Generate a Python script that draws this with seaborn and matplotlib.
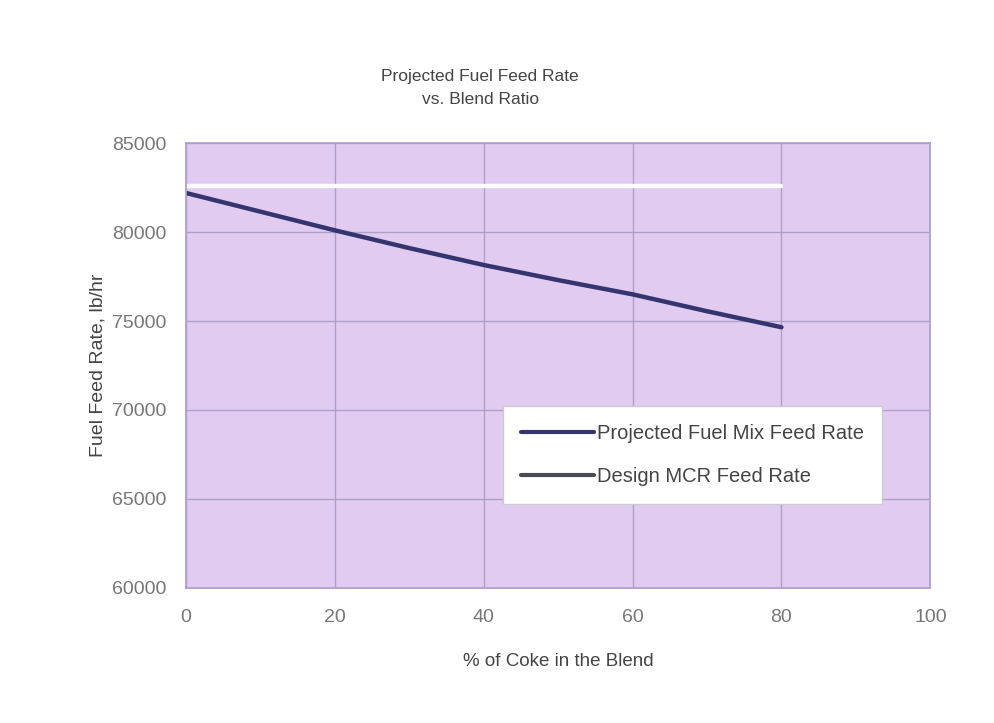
import matplotlib
matplotlib.use("Agg")
import matplotlib.pyplot as plt
import seaborn as sns
import pandas as pd
from matplotlib.lines import Line2D

coke_pct = [0, 10, 20, 30, 40, 50, 60, 70, 80]
projected_rate = [82200, 81150, 80100, 79100, 78150, 77300, 76500, 75550, 74650]
design_x = [0, 80]
design_rate = [82600, 82600]
x_ticks = [0, 20, 40, 60, 80, 100]
y_ticks = [60000, 65000, 70000, 75000, 80000, 85000]

sns.set_theme(style="whitegrid")
plt.rcParams['font.family'] = ['Liberation Sans', 'DejaVu Sans']

fig = plt.figure(figsize=(9.94, 7.23), dpi=100)
ax = fig.add_axes([0.187, 0.187, 0.749, 0.615])
ax.set_facecolor('#e2cbf0')

df_p = pd.DataFrame({"x": coke_pct, "y": projected_rate})
df_d = pd.DataFrame({"x": design_x, "y": design_rate})
sns.lineplot(data=df_p, x="x", y="y", ax=ax, color='#34356e', lw=3.2)
sns.lineplot(data=df_d, x="x", y="y", ax=ax, color='white', lw=3.2)

ax.set_xlim(0, 100)
ax.set_ylim(60000, 85000)
ax.set_xticks(x_ticks)
ax.set_yticks(y_ticks)
ax.grid(True, color='#ad9fcb', lw=1.0)
for s in ax.spines.values():
    s.set_color('#ad9fcb')
ax.tick_params(axis='both', colors='#777777', labelsize=14, length=0)
ax.tick_params(axis='x', pad=15)
ax.tick_params(axis='y', pad=14)

ax.set_xlabel("% of Coke in the Blend", fontsize=13.5, color='#444444', labelpad=20)
ax.set_ylabel("Fuel Feed Rate, lb/hr", fontsize=14, color='#444444', labelpad=4)
fig.text(0.483, 0.878, "Projected Fuel Feed Rate\nvs. Blend Ratio", ha='center', va='center',
         fontsize=12.5, color='#444444', linespacing=1.7)

handles = [Line2D([0], [0], color='#34356e', lw=3),
           Line2D([0], [0], color='#4a4a55', lw=3)]
leg = ax.legend(handles, ["Projected Fuel Mix Feed Rate", "Design MCR Feed Rate"],
                loc='upper left', bbox_to_anchor=(0.426, 0.409), borderaxespad=0,
                fontsize=14.5, handlelength=3.6, handletextpad=0.15, labelspacing=1.2,
                frameon=True, fancybox=False, borderpad=0.9, labelcolor='#444444')
leg.get_frame().set_facecolor('white')
leg.get_frame().set_edgecolor('#cccccc')
leg.get_frame().set_alpha(1)

fig.savefig("out.png", dpi=100, facecolor='white')
